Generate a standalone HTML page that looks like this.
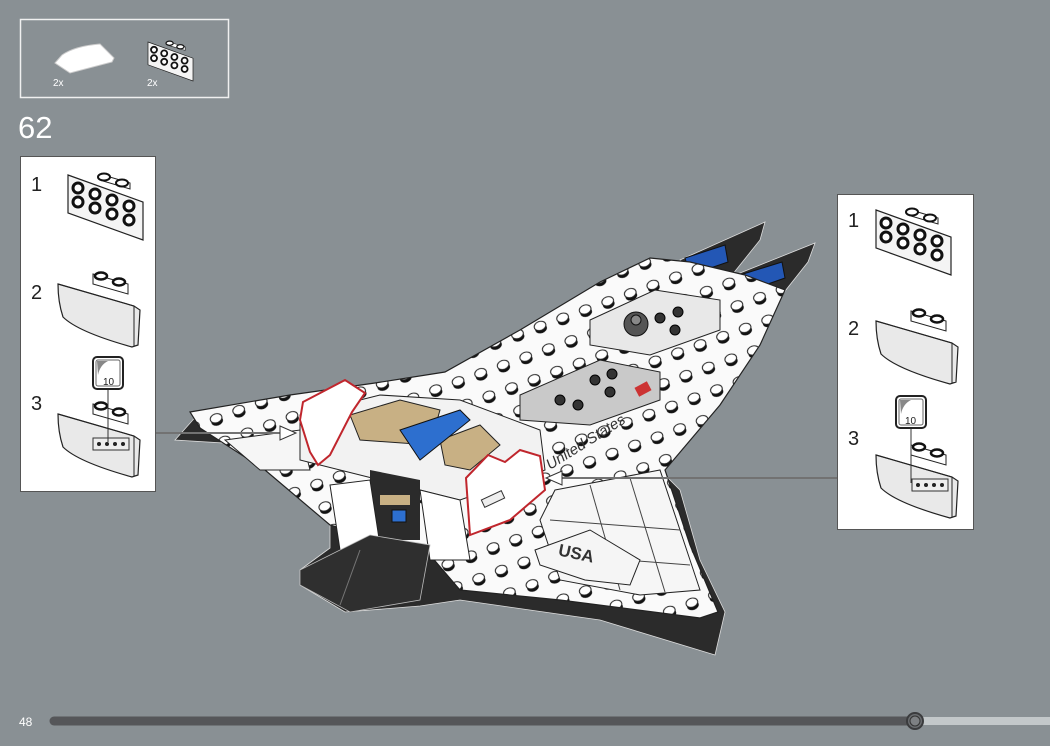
<!DOCTYPE html>
<html><head><meta charset="utf-8">
<style>
html,body{margin:0;padding:0;}
body{width:1050px;height:746px;background:#899094;position:relative;overflow:hidden;font-family:"Liberation Sans",sans-serif;}
.abs{position:absolute;}
</style></head><body>
<svg class="abs" style="left:0;top:0" width="1050" height="746" viewBox="0 0 1050 746">
<defs>
  <pattern id="studs" patternUnits="userSpaceOnUse" width="24" height="24" patternTransform="rotate(-20)">
    <rect width="24" height="24" fill="#fafafa"/>
    <ellipse cx="12" cy="14" rx="6" ry="4.5" fill="#111"/>
    <ellipse cx="12" cy="11" rx="6" ry="4.5" fill="#fff" stroke="#222" stroke-width="1"/>
  </pattern>
  <g id="b1">
    <polygon points="35,0 62,8 62,14 35,6" fill="#fff" stroke="#222"/>
    <polygon points="0,0 75,27 75,65 0,38" fill="#f4f4f4" stroke="#222" stroke-width="1.2"/>
    <g fill="#fff" stroke="#111" stroke-width="3">
      <circle cx="10" cy="13" r="5"/><circle cx="27" cy="19" r="5"/><circle cx="44" cy="25" r="5"/><circle cx="61" cy="31" r="5"/>
      <circle cx="10" cy="27" r="5"/><circle cx="27" cy="33" r="5"/><circle cx="44" cy="39" r="5"/><circle cx="61" cy="45" r="5"/>
    </g>
    <ellipse cx="36" cy="2" rx="6" ry="3.5" fill="#fff" stroke="#111" stroke-width="2"/>
    <ellipse cx="54" cy="8" rx="6" ry="3.5" fill="#fff" stroke="#111" stroke-width="2"/>
  </g>
  <g id="b2">
    <polygon points="35,2 70,12 70,22 35,12" fill="#fff" stroke="#222"/>
    <ellipse cx="43" cy="4" rx="6" ry="3.5" fill="#fff" stroke="#111" stroke-width="2.5"/>
    <ellipse cx="61" cy="10" rx="6" ry="3.5" fill="#fff" stroke="#111" stroke-width="2.5"/>
    <path d="M0,12 L76,34 L82,38 L80,73 L74,75 Q20,60 5,45 Q0,30 0,12 Z" fill="#e9e9e9" stroke="#222" stroke-width="1.2"/>
    <path d="M0,12 L76,34 L76,74" fill="none" stroke="#222"/>
  </g>
</defs>

<!-- parts box -->
<rect x="20.5" y="19.5" width="208" height="78" fill="none" stroke="#f0f0f0" stroke-width="1.5"/>
<path d="M55,63 L62,55 Q75,46 100,44 L114,58 L112,62 L70,73 Z" fill="#fff" stroke="#ccc"/>
<text x="53" y="86" font-size="10" fill="#fff">2x</text>
<g transform="translate(148,42) scale(0.6)"><use href="#b1"/></g>
<text x="147" y="86" font-size="10" fill="#fff">2x</text>
<text x="18" y="138" font-size="31" fill="#fff" font-weight="300">62</text>

<!-- left panel -->
<rect x="20.5" y="156.5" width="135" height="335" fill="#fff" stroke="#555"/>
<text x="31" y="191" font-size="20" fill="#222">1</text>
<text x="31" y="299" font-size="20" fill="#222">2</text>
<text x="31" y="410" font-size="20" fill="#222">3</text>
<use href="#b1" transform="translate(68,175)"/>
<use href="#b2" transform="translate(58,272)"/>
<use href="#b2" transform="translate(58,402)"/>
<rect x="93" y="438" width="36" height="12" fill="#eee" stroke="#333"/>
<g fill="#222"><circle cx="99" cy="444" r="2"/><circle cx="107" cy="444" r="2"/><circle cx="115" cy="444" r="2"/><circle cx="123" cy="444" r="2"/></g>
<line x1="108" y1="390" x2="108" y2="442" stroke="#333"/>
<rect x="93" y="357" width="30" height="32" rx="4" fill="#fff" stroke="#222" stroke-width="2"/>
<rect x="96" y="360" width="24" height="26" rx="2" fill="#fff" stroke="#666"/>
<path d="M97,361 L108,361 Q100,365 98,375 Z" fill="#888"/>
<text x="103" y="385" font-size="10" fill="#222">10</text>

<!-- right panel -->
<rect x="837.5" y="194.5" width="136" height="335" fill="#fff" stroke="#555"/>
<text x="848" y="227" font-size="20" fill="#222">1</text>
<text x="848" y="335" font-size="20" fill="#222">2</text>
<text x="848" y="445" font-size="20" fill="#222">3</text>
<use href="#b1" transform="translate(876,210)"/>
<use href="#b2" transform="translate(876,309)"/>
<use href="#b2" transform="translate(876,443)"/>
<rect x="912" y="479" width="36" height="12" fill="#eee" stroke="#333"/>
<g fill="#222"><circle cx="918" cy="485" r="2"/><circle cx="926" cy="485" r="2"/><circle cx="934" cy="485" r="2"/><circle cx="942" cy="485" r="2"/></g>
<line x1="911" y1="428" x2="911" y2="483" stroke="#333"/>
<rect x="896" y="396" width="30" height="32" rx="4" fill="#fff" stroke="#222" stroke-width="2"/>
<rect x="899" y="399" width="24" height="26" rx="2" fill="#fff" stroke="#666"/>
<path d="M900,400 L911,400 Q903,404 901,414 Z" fill="#888"/>
<text x="905" y="424" font-size="10" fill="#222">10</text>

<!-- shuttle: dark underside -->
<polygon points="175,440 200,412 330,520 330,548 300,570 300,585 345,612 420,606 460,600 600,620 715,655 725,612 700,560 680,490 660,470" fill="#2b2b2b" stroke="#ddd" stroke-width="0.8"/>
<!-- tail fins -->
<polygon points="680,260 765,222 760,240 720,290" fill="#2b2b2b" stroke="#ddd" stroke-width="0.8"/>
<polygon points="735,275 815,243 808,262 770,310" fill="#2b2b2b" stroke="#ddd" stroke-width="0.8"/>
<polygon points="685,258 725,245 728,262 690,275" fill="#2357b5" stroke="#111"/>
<polygon points="740,275 782,262 785,278 745,292" fill="#2357b5" stroke="#111"/>
<!-- white body -->
<polygon points="190,412 290,395 375,383 445,372 520,330 600,282 650,258 690,262 745,275 785,290 760,345 720,405 665,470 690,545 718,612 700,618 560,600 460,590 430,555 330,525 265,470 200,428" fill="url(#studs)" stroke="#222" stroke-width="1.2"/>
<!-- right wing tiles -->
<polygon points="555,490 660,470 680,530 700,590 640,595 560,580 540,520" fill="#f6f6f6" stroke="#222"/>
<line x1="590" y1="485" x2="620" y2="590" stroke="#444"/>
<line x1="630" y1="478" x2="665" y2="592" stroke="#444"/>
<line x1="550" y1="520" x2="680" y2="530" stroke="#444"/>
<line x1="560" y1="555" x2="690" y2="565" stroke="#444"/>
<!-- left wing lines -->
<polygon points="225,440 300,430 310,470 260,470" fill="#f6f6f6" stroke="#222"/>
<!-- fuselage blocks -->
<polygon points="590,320 655,290 720,300 720,330 650,355 590,345" fill="#e8e8e8" stroke="#222"/>
<polygon points="520,395 600,360 660,372 660,400 590,425 520,420" fill="#c9c9c9" stroke="#222"/>
<g fill="#333" stroke="#000"><circle cx="595" cy="380" r="5"/><circle cx="612" cy="374" r="5"/><circle cx="610" cy="392" r="5"/><circle cx="560" cy="400" r="5"/><circle cx="578" cy="405" r="5"/><circle cx="660" cy="318" r="5"/><circle cx="678" cy="312" r="5"/><circle cx="675" cy="330" r="5"/></g>
<circle cx="636" cy="324" r="12" fill="#555" stroke="#111"/>
<circle cx="636" cy="320" r="5" fill="#888" stroke="#111"/>
<rect x="636" y="384" width="14" height="10" fill="#c33" transform="rotate(-28 643 389)"/>
<text x="550" y="470" font-size="15" font-style="italic" fill="#333" transform="rotate(-32 550 470)">United States</text>
<!-- center section -->
<polygon points="300,415 380,395 460,400 540,430 545,470 460,500 380,480 300,460" fill="#f2f2f2" stroke="#222"/>
<polygon points="350,415 400,400 440,410 430,445 360,440" fill="#c8b084" stroke="#222"/>
<polygon points="440,440 480,425 500,445 470,470 445,465" fill="#c8b084" stroke="#222"/>
<polygon points="400,430 460,410 470,420 420,460" fill="#2d6fcf" stroke="#111"/>
<polygon points="370,470 420,480 420,540 380,540 370,510" fill="#2b2b2b"/>
<rect x="380" y="495" width="30" height="10" fill="#c8b084"/>
<rect x="392" y="510" width="14" height="12" fill="#2d6fcf" stroke="#111"/>
<polygon points="330,485 370,480 380,545 340,550" fill="#fff" stroke="#222"/>
<polygon points="420,490 460,500 470,560 430,560" fill="#fff" stroke="#222"/>
<!-- dark bottom plate -->
<polygon points="300,570 370,535 430,545 420,600 350,612 300,585" fill="#2f2f2f" stroke="#bbb" stroke-width="0.8"/>
<line x1="360" y1="550" x2="340" y2="605" stroke="#777"/>
<!-- USA -->
<polygon points="535,550 590,530 640,560 630,585 585,580 540,565" fill="#f5f5f5" stroke="#222"/>
<text x="557" y="560" font-size="17" font-weight="bold" fill="#333" transform="rotate(12 580 560)">USA</text>
<!-- red outlines -->
<polygon points="300,420 303,402 345,380 365,393 352,412 330,455 318,465 310,452" fill="#fff" stroke="#c0262d" stroke-width="2"/>
<polygon points="466,478 488,455 505,462 520,450 540,456 545,490 510,520 470,535" fill="#fff" stroke="#c0262d" stroke-width="2"/>
<rect x="482" y="495" width="22" height="8" fill="#eee" stroke="#333" transform="rotate(-25 493 499)"/>
<!-- connectors -->
<line x1="156" y1="433" x2="280" y2="433" stroke="#333" stroke-width="2"/>
<line x1="156" y1="433" x2="280" y2="433" stroke="#ddd" stroke-width="0.8"/>
<polygon points="280,426 296,433 280,440" fill="#fff" stroke="#333"/>
<line x1="837" y1="478" x2="562" y2="478" stroke="#333" stroke-width="2"/>
<line x1="837" y1="478" x2="562" y2="478" stroke="#ddd" stroke-width="0.8"/>
<polygon points="562,471 546,478 562,485" fill="#fff" stroke="#333"/>

<!-- footer -->
<text x="19" y="726" font-size="12" fill="#fff">48</text>
<line x1="54" y1="721" x2="915" y2="721" stroke="#555659" stroke-width="9" stroke-linecap="round"/>
<line x1="915" y1="721" x2="1050" y2="721" stroke="#c3c8ca" stroke-width="8"/>
<circle cx="915" cy="721" r="8" fill="#6a6d70" stroke="#3a3b3d" stroke-width="2"/>
<circle cx="915" cy="721" r="5" fill="#7d8083" stroke="#333" stroke-width="1"/>
</svg>
</body></html>
